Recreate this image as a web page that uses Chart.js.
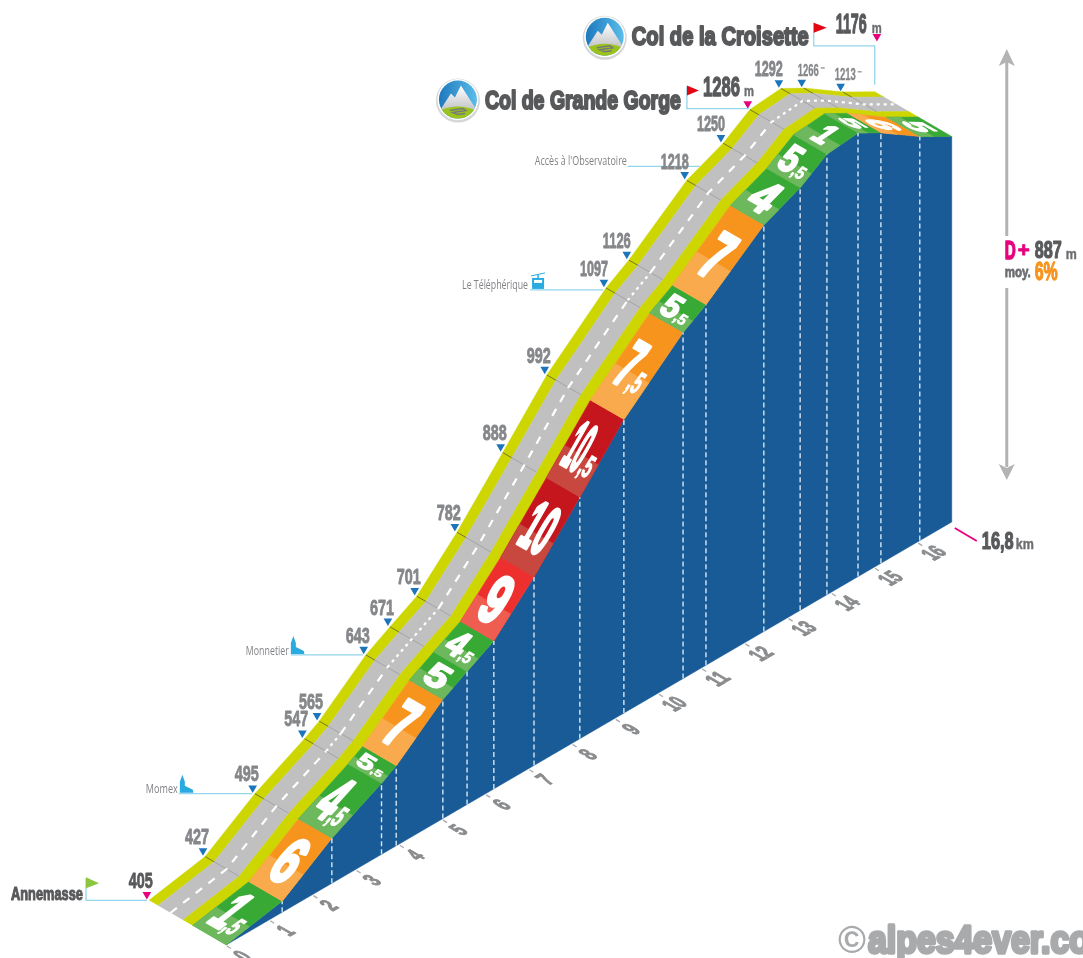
<!DOCTYPE html>
<html lang="fr">
<head>
<meta charset="utf-8">
<title>Col de la Croisette</title>
<style>
  html,body{margin:0;padding:0;background:#fff;overflow:hidden}
  canvas{display:block}
</style>
</head>
<body>
<canvas id="profil" width="1083" height="958"></canvas>
<script src="https://cdn.jsdelivr.net/npm/chart.js@4/dist/chart.umd.min.js"></script>
<script>
// km of each break along the climb, altitude there, and gradient of the stretch after it
const kmBreaks  = [0,1.3,2.45,3.6,3.94,5.02,5.58,6.2,7.13,8.19,9.21,10.58,11.11,12.45,13.29,13.91,14.63,15.16,16.06,16.8];
const altitudes = [405,427,495,547,565,643,671,701,782,888,992,1097,1126,1218,1250,1286,1292,1266,1213,1176];
const gradients = [1.5,6,4.5,5.5,7,5,4.5,9,10,10.5,7.5,5.5,7,4,5.5,1,5,6,5];
const kmTicks   = [0,1,2,3,4,5,6,7,8,9,10,11,12,13,14,15,16];
const totalKm   = 16.8;
const baseAlt   = 405;

// stretches of the centre line that are drawn dotted
const dottedStretches = [3,5,6,11,15,16,17,18];

// oblique view: the floor climbs with km, the road lies "behind" the wall
const PX_KM = 43.2, PX_M = 0.5, RISE_KM = 25.18, DEPTH_SLOPE = 0.58;
const DEPTH = {band:33.5, yellowA:43, road:68, yellowB:77, centre:55.5};

const BLUE='#195b97', YELLOW='#cdd600', ROAD='#c0c0c0', GREY='#85878a', DARK='#58595b',
      PINK='#e6007e', ORANGE='#f7941d', LEADER='#93d5ec', MARK='#1b75bb';

function bandColors(g){
  if(g<=5.5) return ['#39a935','#6db85c'];
  if(g<=8)   return ['#f7941d','#f9aa4c'];
  if(g<=9)   return ['#ed2f2e','#ef5d50'];
  return ['#c4161c','#c8473f'];
}

// km, altitude, depth (px) -> values on the chart's two linear axes
function proj(k,a,d){
  return {x:k-d/PX_KM, y:a+k*RISE_KM/PX_M+d*DEPTH_SLOPE/PX_M};
}
function poly(points,color,extra){
  return Object.assign({type:'scatter',data:points,showLine:true,fill:'shape',tension:0,
    backgroundColor:color,borderColor:color,borderWidth:0.5,pointRadius:0},extra||{});
}
function stroke(points,color,width,extra){
  return Object.assign({type:'scatter',data:points,showLine:true,fill:false,tension:0,
    borderColor:color,borderWidth:width,pointRadius:0},extra||{});
}
function edge(d){ return kmBreaks.map((k,i)=>proj(k,altitudes[i],d)); }
function ribbon(d1,d2){ return edge(d1).concat(edge(d2).reverse()); }

const layers=[];
// blue wall
layers.push(poly([proj(0,baseAlt,0),proj(totalKm,baseAlt,0)].concat(edge(0).reverse()),BLUE));
// road, back to front
layers.push(poly(ribbon(DEPTH.yellowB,DEPTH.road),YELLOW));
layers.push(poly(ribbon(DEPTH.road,DEPTH.yellowA),ROAD));
layers.push(poly(ribbon(DEPTH.yellowA,DEPTH.band),YELLOW));
// thin lines across the road at each break
kmBreaks.forEach((k,i)=>{
  if(i===0||i===kmBreaks.length-1) return;
  layers.push(stroke([proj(k,altitudes[i],DEPTH.yellowB),proj(k,altitudes[i],DEPTH.yellowB-9)],'#77772a',1));
  layers.push(stroke([proj(k,altitudes[i],DEPTH.road),proj(k,altitudes[i],DEPTH.yellowA)],'#a4a4a8',1));
});
// centre line
layers.push(stroke(edge(DEPTH.centre),'#ffffff',2.2,{
  segment:{borderDash:c=>dottedStretches.includes(c.p0DataIndex)?[3,4]:[8,8]}
}));
// gradient stretches, each with a lighter lower part
gradients.forEach((g,i)=>{
  const [dark,light]=bandColors(g);
  const k0=kmBreaks[i],k1=kmBreaks[i+1],a0=altitudes[i],a1=altitudes[i+1];
  layers.push(poly([proj(k0,a0,0),proj(k1,a1,0),proj(k1,a1,DEPTH.band),proj(k0,a0,DEPTH.band)],dark));
  const km=k0+(k1-k0)*0.42, am=a0+(a1-a0)*0.42;
  layers.push(poly([proj(k0,a0,0),proj(km,am,0),proj(km,am,DEPTH.band),proj(k0,a0,DEPTH.band)],light));
});
// km dashes on the wall
kmBreaks.forEach((k,i)=>{
  if(i===0||i===kmBreaks.length-1) return;
  layers.push(stroke([proj(k,baseAlt,0),proj(k,altitudes[i],0)],'#d5e6f3',1.4,{borderDash:[5,3]}));
});
// altitude markers
const lift=altitudes.map((a,i)=>i===altitudes.length-1?108:14);
const markerPts=altitudes.map((a,i)=>{
  const p=proj(kmBreaks[i]-0.05,a+lift[i],DEPTH.yellowB);
  return i===altitudes.length-1?proj(kmBreaks[i]+0.05,a+lift[i],DEPTH.yellowB):p;
});
const pinkAt=[0,15,altitudes.length-1];
layers.push({type:'scatter',data:markerPts,showLine:false,pointStyle:'triangle',pointRotation:180,pointRadius:5,
  pointBackgroundColor:markerPts.map((p,i)=>pinkAt.includes(i)?PINK:MARK),pointBorderWidth:0,borderWidth:0});

// text squeezed into a width and height: heavy condensed look from a wide bold face
function fit(ctx,text,x,base,w,h,color,heavy,plain){
  ctx.save();
  ctx.font=plain?'100px "Open Sans"':'bold 100px "Liberation Sans"';
  ctx.textAlign='left'; ctx.textBaseline='alphabetic';
  const mw=ctx.measureText(text).width;
  ctx.translate(x,base);
  ctx.scale(w/mw,h/71);
  ctx.fillStyle=color;
  ctx.fillText(text,0,0);
  if(heavy){ ctx.strokeStyle=color; ctx.lineWidth=heavy; ctx.lineJoin='round'; ctx.strokeText(text,0,0); }
  ctx.restore();
}
function line(ctx,pts,color,width){
  ctx.save(); ctx.beginPath();
  pts.forEach((p,i)=>i?ctx.lineTo(p[0],p[1]):ctx.moveTo(p[0],p[1]));
  ctx.strokeStyle=color; ctx.lineWidth=width; ctx.stroke(); ctx.restore();
}
function shape(ctx,pts,color){
  ctx.save(); ctx.beginPath();
  pts.forEach((p,i)=>i?ctx.lineTo(p[0],p[1]):ctx.moveTo(p[0],p[1]));
  ctx.closePath(); ctx.fillStyle=color; ctx.fill(); ctx.restore();
}
function badge(ctx,x,y){
  const r=21;
  ctx.save();
  ctx.beginPath(); ctx.arc(x,y+1,r+1,0,7); ctx.fillStyle='#d4d6d8'; ctx.fill();
  ctx.beginPath(); ctx.arc(x,y,r-0.5,0,7); ctx.fillStyle='#ffffff'; ctx.fill();
  ctx.beginPath(); ctx.arc(x,y,r-2,0,7); ctx.clip();
  const g=ctx.createLinearGradient(x-r,y,x+r,y);
  g.addColorStop(0,'#1b75bb'); g.addColorStop(1,'#5cc0ec');
  ctx.fillStyle=g; ctx.fillRect(x-r,y-r,2*r,2*r);
  const m=ctx.createLinearGradient(x,y-14,x,y+10);
  m.addColorStop(0,'#ffffff'); m.addColorStop(1,'#c4c5c7');
  shape(ctx,[[x-18,y+11],[x-7,y-6],[x-3,y-2],[x+3,y-14],[x+19,y+11]],m);
  ctx.beginPath(); ctx.ellipse(x,y+18,23,11,0,0,7); ctx.fillStyle='#9ac31c'; ctx.fill();
  line(ctx,[[x-8,y+11],[x+5,y+9],[x+8,y+11],[x-5,y+13],[x,y+15],[x+7,y+14]],'#77787b',1.5);
  ctx.restore();
}
function church(ctx,x,y){
  shape(ctx,[[x,y+18],[x,y+7],[x+2.5,y],[x+5,y+7],[x+5,y+11],[x+13,y+15],[x+13.5,y+18]],'#29abe2');
}
function cabin(ctx,x,y){
  line(ctx,[[x-1,y+3],[x+13,y]],'#29abe2',1);
  line(ctx,[[x+6,y+2],[x+6,y+5]],'#29abe2',1.5);
  shape(ctx,[[x,y+5],[x+12,y+5],[x+12,y+16],[x,y+16]],'#29abe2');
  shape(ctx,[[x+2,y+7],[x+10,y+7],[x+10,y+10],[x+2,y+10]],'#ffffff');
}
function grade(ctx,g,p0,p1){
  const dx=p1.x-p0.x, dy=p1.y-p0.y, len=Math.hypot(dx,dy);
  const H=Math.min(50,len*0.68);
  const n=Math.hypot(1,DEPTH_SLOPE), cx=(p0.x+p1.x)/2, cy=(p0.y+p1.y)/2;
  const parts=String(g).split('.');
  const hasFrac=parts.length>1, two=parts[0].length>1;
  const wMain=two?(hasFrac?20:28):(hasFrac?17:parts[0]==='1'?15:22);
  const wFrac=hasFrac?12:0;
  const W=wMain+wFrac;
  ctx.save();
  ctx.transform(1/n,DEPTH_SLOPE/n,-dx/len,-dy/len,cx,cy);
  fit(ctx,parts[0],-W/2,H/2,wMain,H,'#fff',6);
  if(hasFrac) fit(ctx,','+parts[1],-W/2+wMain,H/2,wFrac,H*0.46,'#fff',4);
  ctx.restore();
}

const labels={
  id:'labels',
  afterDatasetsDraw(chart){
    const {ctx,scales:{x:sx,y:sy}}=chart;
    const px=(k,a,d)=>{const p=proj(k,a,d);return {x:sx.getPixelForValue(p.x),y:sy.getPixelForValue(p.y)};};
    const back=i=>px(kmBreaks[i],altitudes[i],DEPTH.yellowB);

    // gradient numbers on the band
    gradients.forEach((g,i)=>grade(ctx,g,
      px(kmBreaks[i],altitudes[i],DEPTH.band/2),px(kmBreaks[i+1],altitudes[i+1],DEPTH.band/2)));

    // km numbers lying on the floor
    kmTicks.forEach(k=>{
      const b=px(k,baseAlt,0);
      line(ctx,[[b.x+1,b.y+1],[b.x+5,b.y+3.5]],'#a8a8a8',1.3);
      const t=String(k), w=t.length*7;
      ctx.save();
      ctx.transform(1,-DEPTH_SLOPE,1,DEPTH_SLOPE,b.x+16,b.y+10.5);
      fit(ctx,t,-w/2,7.5,w,15,'#8a8c8e',5);
      ctx.restore();
    });
    // altitudes above their markers
    altitudes.forEach((a,i)=>{
      const m={x:sx.getPixelForValue(markerPts[i].x),y:sy.getPixelForValue(markerPts[i].y)};
      const t=String(a), big=i===15||i===19;
      if(big||i===13) return;
      if(i===17||i===18){
        fit(ctx,t,m.x-(i===17?4:6),m.y-6,21,12,GREY,2);
        shape(ctx,[[m.x+(i===17?19:17),m.y-15],[m.x+(i===17?23:21),m.y-15],[m.x+(i===17?23:21),m.y-13.8],[m.x+(i===17?19:17),m.y-13.8]],GREY);
        return;
      }
      const w=t.length===3?24:28, dx=t.length===3?-6:-10;
      fit(ctx,t,m.x+dx-w/2,m.y-6.5,w,15.5,i===0?DARK:GREY,4);
    });

    // start
    let b=back(0);
    line(ctx,[[b.x-63,b.y-22],[b.x-63,b.y],[b.x-2,b.y]],LEADER,1.3);
    shape(ctx,[[b.x-63,b.y-23],[b.x-50,b.y-17],[b.x-63,b.y-12]],'#8cc63f');
    fit(ctx,'Annemasse',b.x-138,b.y,72,12.5,DARK,6);

    // places
    b=back(2);
    line(ctx,[[b.x-76,b.y],[b.x-3,b.y]],LEADER,1.3);
    church(ctx,b.x-75,b.y-19);
    fit(ctx,'Momex',b.x-109,b.y-1,32,8.5,'#808285',0,true);
    b=back(5);
    line(ctx,[[b.x-75,b.y],[b.x-3,b.y]],LEADER,1.3);
    church(ctx,b.x-75,b.y-19);
    fit(ctx,'Monnetier',b.x-120,b.y+0,43,8.5,'#808285',0,true);
    b=back(11);
    line(ctx,[[b.x-76,b.y+2],[b.x-3,b.y+2]],LEADER,1.3);
    cabin(ctx,b.x-74,b.y-15);
    fit(ctx,'Le Téléphérique',b.x-144,b.y+1,66,8.5,'#808285',0,true);
    b=back(13);
    line(ctx,[[b.x-59,b.y-14],[b.x+13,b.y-14]],LEADER,1.3);
    fit(ctx,'Accès à l\'Observatoire',b.x-152,b.y-15.5,92,8.5,'#808285',0,true);
    // 1218 sits over its leader
    const m13={x:sx.getPixelForValue(markerPts[13].x),y:sy.getPixelForValue(markerPts[13].y)};
    fit(ctx,'1218',m13.x-24,m13.y-6,28,15.5,GREY,4);

    // cols
    b=back(15);
    line(ctx,[[b.x-63,b.y-23],[b.x-63,b.y-1],[b.x-1,b.y-1]],LEADER,1.3);
    shape(ctx,[[b.x-63,b.y-24],[b.x-51,b.y-19],[b.x-63,b.y-14]],'#e30613');
    fit(ctx,'1286',b.x-47,b.y-14,37,19,DARK,5);
    fit(ctx,'m',b.x-6,b.y-14,10,11,'#6d6e71',3);
    badge(ctx,b.x-292,b.y-10);
    fit(ctx,'Col de Grande Gorge',b.x-265,b.y-1,196,18.5,DARK,8);

    b=back(19);
    line(ctx,[[b.x-61,b.y-69],[b.x-61,b.y-46],[b.x,b.y-46],[b.x,b.y-7]],LEADER,1.3);
    shape(ctx,[[b.x-61,b.y-69],[b.x-48,b.y-64],[b.x-61,b.y-59]],'#e30613');
    fit(ctx,'1176',b.x-39,b.y-59,31,19,DARK,5);
    fit(ctx,'m',b.x-3,b.y-59,10,11,'#6d6e71',3);
    badge(ctx,b.x-270,b.y-55);
    fit(ctx,'Col de la Croisette',b.x-243,b.y-47,177,18.5,DARK,8);

    // finish distance
    const e=px(totalKm,baseAlt,0);
    line(ctx,[[e.x+3,e.y+6],[e.x+25,e.y+19]],PINK,1.8);
    fit(ctx,'16,8',e.x+30,e.y+27,32,17,DARK,5);
    fit(ctx,'km',e.x+64,e.y+27,18,10,'#6d6e71',3);

    // total climb arrow
    const ax=e.x+55;
    line(ctx,[[ax,e.y-462],[ax,e.y-286]],'#b3b3b3',3);
    line(ctx,[[ax,e.y-234],[ax,e.y-55]],'#b3b3b3',3);
    shape(ctx,[[ax,e.y-473],[ax+8,e.y-456],[ax,e.y-460],[ax-8,e.y-456]],'#b3b3b3');
    shape(ctx,[[ax,e.y-42],[ax+8,e.y-58],[ax,e.y-54],[ax-8,e.y-58]],'#b3b3b3');
    fit(ctx,'D',ax-2,e.y-263,11,18,PINK,6);
    fit(ctx,'+',ax+11,e.y-265,12,15,PINK,4);
    fit(ctx,'887',ax+28,e.y-264,27,17,DARK,5);
    fit(ctx,'m',ax+59,e.y-263,11,10,'#6d6e71',3);
    fit(ctx,'moy.',ax-2,e.y-245,26,11,'#6d6e71',5);
    fit(ctx,'6%',ax+28,e.y-242,23,18,ORANGE,5);

    // watermark, the sign stays open so it is not stroked
    fit(ctx,'©',838,953,28,28,'#a9aaac',0);
    fit(ctx,'alpes4ever.co',868,953,222,28,'#a9aaac',9);
  }
};

new Chart(document.getElementById('profil'),{
  type:'scatter',
  data:{datasets:layers.slice().reverse()},   // first dataset is painted last
  options:{
    responsive:false,animation:false,
    layout:{padding:0,autoPadding:false},
    plugins:{legend:{display:false},tooltip:{enabled:false},title:{display:false}},
    scales:{
      x:{type:'linear',display:false,min:-226/PX_KM,max:857/PX_KM},
      y:{type:'linear',display:false,min:baseAlt-13/PX_M,max:baseAlt+945/PX_M}
    }
  },
  plugins:[labels]
});
</script>
</body>
</html>
